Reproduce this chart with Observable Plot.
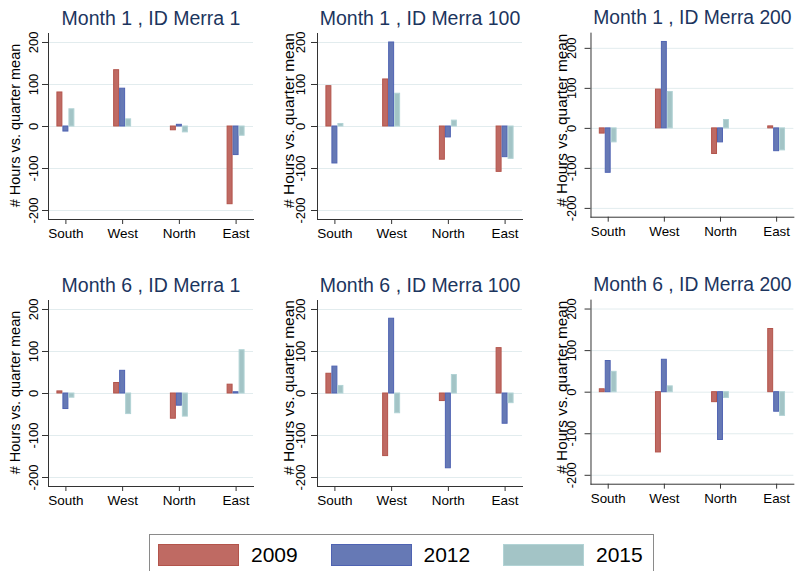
<!DOCTYPE html>
<html>
<head>
<meta charset="utf-8">
<script src="https://cdn.jsdelivr.net/npm/d3@7"></script>
<script src="https://cdn.jsdelivr.net/npm/@observablehq/plot@0.6"></script>
<style>
  html, body { margin: 0; padding: 0; background: #fff; overflow: hidden; }
  #chart { position: relative; width: 797px; height: 571px; font-family: "Liberation Sans", Arial, sans-serif; }
  .panel { position: absolute; }
  #legend { position: absolute; left: 149px; top: 534px; width: 505px; height: 50px; border: 1px solid #8a8a8a; box-sizing: border-box; }
  .sw { position: absolute; top: 9px; width: 81px; height: 22px; box-sizing: border-box; border: 1px solid; }
  .lb { position: absolute; top: 7px; font-size: 21px; line-height: 26px; color: #000; }
</style>
</head>
<body>
<div id="chart"></div>
<script>
// ---- data ----
const regions = ["South", "West", "North", "East"];
const years = ["2009", "2012", "2015"];
const yTicks = [-200, -100, 0, 100, 200];
const panelTitles = [
  "Month 1 , ID Merra 1", "Month 1 , ID Merra 100", "Month 1 , ID Merra 200",
  "Month 6 , ID Merra 1", "Month 6 , ID Merra 100", "Month 6 , ID Merra 200"
];
const yLabel = "# Hours vs. quarter mean";
// rows: 2009, 2012, 2015 ; columns: South, West, North, East
const m1_id1   = [[81, 134, -9, -185], [-12, 90, 4, -68], [41, 17, -14, -22]];
const m1_id100 = [[96, 112, -79, -108], [-88, 200, -26, -73], [6, 78, 14, -77]];
const m1_id200 = [[-13, 97, -64, 5], [-111, 216, -35, -57], [-35, 91, 21, -55]];
const m6_id1   = [[5, 25, -60, 21], [-37, 54, -29, 3], [-10, -49, -55, 103]];
const m6_id100 = [[47, -149, -18, 108], [64, 178, -178, -72], [18, -47, 44, -23]];
const m6_id200 = [[7, -145, -24, 152], [75, 78, -115, -47], [49, 14, -14, -57]];
const panelValues = [m1_id1, m1_id100, m1_id200, m6_id1, m6_id100, m6_id200];

// ---- styles ----
const fills = ["#bf6a63", "#6679b5", "#a3c4c6"];
const strokes = ["#b3544b", "#4f63b2", "#b2d3d5"];
const navy = "#1c355e";
const axisColor = "#333";
const font = "'Liberation Sans', Arial, sans-serif";

const colLeft = [0, 269.3, 542.7];
const rowTop = [0, 266.8];
const tickLabelDx = [-15, -17, -19];
const yLabelDx = [-33, -28, -29];
const yLabelDy = [-1, -6, -5];
const yLabelSize = [14.5, 15.5, 15.5];

function panel(idx) {
  const vals = panelValues[idx];
  const col = idx % 3;
  const data = regions.flatMap((r, i) => years.map((yr, j) => ({region: r, year: yr, value: vals[j][i]})));
  const yDomain = idx === 2 ? [-222, 238] : [-221.4, 221.4];
  return Plot.plot({
    width: 257, height: 245,
    marginLeft: 48, marginRight: 4, marginTop: 33, marginBottom: 26,
    style: {fontFamily: font, background: "transparent", overflow: "visible", color: "#000"},
    x: {type: "band", domain: regions, paddingInner: 0.8947, paddingOuter: 0.254, round: false, label: null},
    y: {domain: yDomain, label: null},
    color: {domain: years, range: fills},
    marks: [
      Plot.gridY(yTicks, {stroke: "#e2ecee", strokeOpacity: 1, strokeWidth: 1}),
      ...years.map((yr, j) => Plot.barY(data.filter(d => d.year === yr), {
        x: "region", y: "value", fill: "year", stroke: strokes[j], strokeWidth: 1,
        dx: (j - 1) * 6, insetLeft: 0.5, insetRight: 0.5
      })),
      Plot.axisY(yTicks, {tickSize: 6, tickFormat: () => "", stroke: axisColor, label: null}),
      Plot.text(yTicks, {y: d => d, text: d => String(d), frameAnchor: "left", dx: tickLabelDx[col],
        rotate: -90, textAnchor: "middle", lineAnchor: "middle", fontSize: 13, fill: "#000"}),
      Plot.axisX({tickSize: 5, tickPadding: 4, fontSize: 13.5, stroke: axisColor, fill: "#000", label: null}),
      Plot.frame({anchor: "left", stroke: axisColor}),
      Plot.frame({anchor: "bottom", stroke: axisColor}),
      Plot.text([panelTitles[idx]], {frameAnchor: "top", dy: -15, lineAnchor: "middle",
        fontSize: 19.5, fill: navy}),
      Plot.text([yLabel], {frameAnchor: "left", dx: yLabelDx[col], dy: yLabelDy[col], rotate: -90,
        textAnchor: "middle", lineAnchor: "middle", fontSize: yLabelSize[col], fill: "#000"})
    ]
  });
}

const chart = document.getElementById("chart");
for (let i = 0; i < 6; i++) {
  const div = document.createElement("div");
  div.className = "panel";
  div.style.left = colLeft[i % 3] + "px";
  div.style.top = rowTop[Math.floor(i / 3)] + "px";
  div.appendChild(panel(i));
  chart.appendChild(div);
}

// legend
const legend = document.createElement("div");
legend.id = "legend";
years.forEach((yr, j) => {
  const sw = document.createElement("div");
  sw.className = "sw";
  sw.style.left = (8 + j * 172.5) + "px";
  sw.style.background = fills[j];
  sw.style.borderColor = strokes[j];
  legend.appendChild(sw);
  const lb = document.createElement("div");
  lb.className = "lb";
  lb.style.left = (101 + j * 172.5) + "px";
  lb.textContent = yr;
  legend.appendChild(lb);
});
chart.appendChild(legend);
</script>
</body>
</html>
